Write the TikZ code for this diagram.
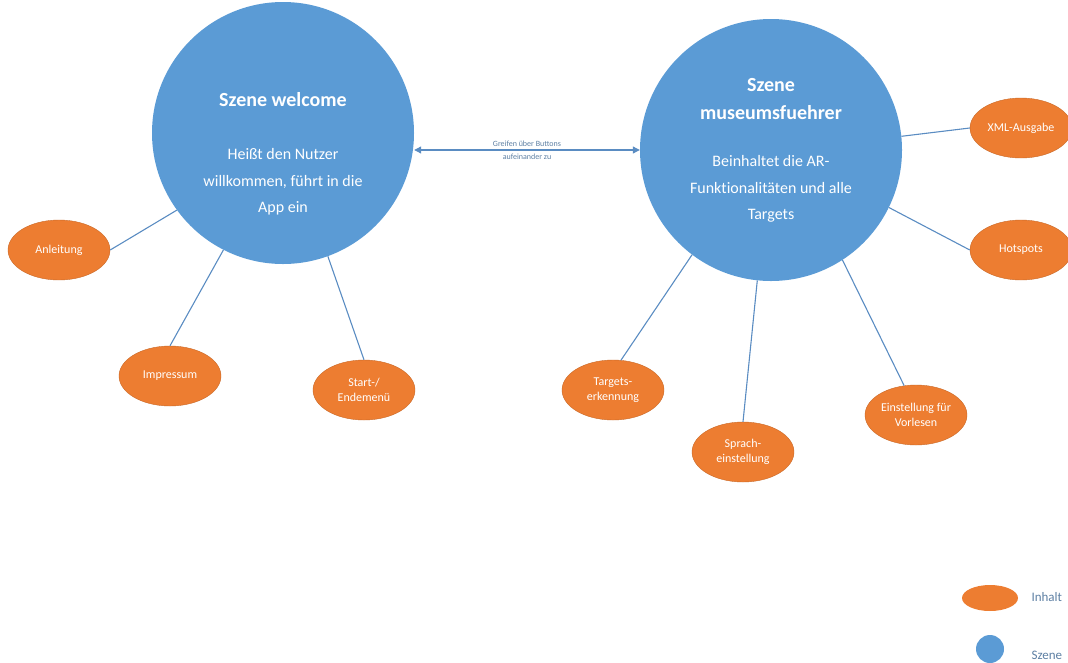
\documentclass[tikz,border=0pt]{standalone}
\usepackage{fontspec}
\setmainfont{Carlito}[Ligatures=NoCommon]
\usetikzlibrary{shapes.geometric,arrows.meta}
\definecolor{szene}{HTML}{5B9BD5}
\definecolor{inhalt}{HTML}{ED7D31}
\definecolor{conn}{HTML}{5A8CC2}
\definecolor{legtext}{HTML}{5D7FA3}
\begin{document}
\begin{tikzpicture}[x=1pt,y=-1pt,
  scene/.style={circle,fill=szene,draw=none,minimum size=262pt,inner sep=0pt},
  content/.style={ellipse,fill=inhalt,draw=inhalt!85!black,line width=0.4pt,minimum width=102pt,minimum height=60pt,inner sep=0pt,text=white,font=\fontsize{12}{14.5}\selectfont,align=center},
  ctext/.style={text=white,align=center},
  link/.style={draw=conn,line width=1.1pt},
  legt/.style={text=legtext,font=\fontsize{13}{15}\selectfont,anchor=west}]
\useasboundingbox (0,0) rectangle (1068,662);
% scenes
\node[scene] (welcome) at (283,133) {};
\node[scene] (museum) at (771,150) {};
\node[ctext,font=\bfseries\fontsize{20}{24}\selectfont] (wtitle) at (283,100) {Szene welcome};
\node[ctext,font=\fontsize{16}{26.5}\selectfont] (wtext) at (283,182) {Heißt den Nutzer\\willkommen, führt in die\\App ein};
\node[ctext,font=\bfseries\fontsize{20}{28}\selectfont] (mtitle) at (771,99) {Szene\\museumsfuehrer};
\node[ctext,font=\fontsize{16}{26.5}\selectfont] (mtext) at (771,189) {Beinhaltet die AR-\\Funktionalitäten und alle\\Targets};
% contents
\node[content] (anleitung) at (59,250) {Anleitung};
\node[content] (impressum) at (170,376) {Impressum};
\node[content] (start) at (364,390) {Start-/\\Endemenü};
\node[content] (targets) at (613,390) {Targets-\\erkennung};
\node[content] (sprach) at (743,452) {Sprach-\\einstellung};
\node[content] (vorlesen) at (916,415) {Einstellung für\\Vorlesen};
\node[content] (hotspots) at (1021,250) {Hotspots};
\node[content] (xml) at (1021,128) {XML-Ausgabe};
% connectors
\draw[link] (anleitung.east) -- (welcome.216);
\draw[link] (impressum.north) -- (welcome.243);
\draw[link] (start.north) -- (welcome.290);
\draw[link] (targets.75) -- (museum.233);
\draw[link] (sprach.north) -- (museum.264);
\draw[link] (vorlesen.112) -- (museum.303);
\draw[link] (hotspots.west) -- (museum.334);
\draw[link] (xml.west) -- (museum.6);
\draw[link,{Triangle[length=7pt,width=7pt]}-{Triangle[length=7pt,width=7pt]}] (welcome.east |- 0,150) coordinate (a1) -- (museum.west |- 0,150) coordinate (a2);
\node[text=legtext,font=\fontsize{8}{9}\selectfont,align=center] (alabel) at (527,150) {Greifen über Buttons\\[4pt]aufeinander zu};
% legend
\node[ellipse,fill=inhalt,minimum width=56pt,minimum height=26pt,inner sep=0pt] (leginhalt) at (990,598) {};
\node[legt] (leginhalttext) at (1028,597) {Inhalt};
\node[circle,fill=szene,minimum size=28pt,inner sep=0pt] (legszene) at (990,649) {};
\node[legt] (legszenetext) at (1028,655) {Szene};
\end{tikzpicture}
\end{document}
